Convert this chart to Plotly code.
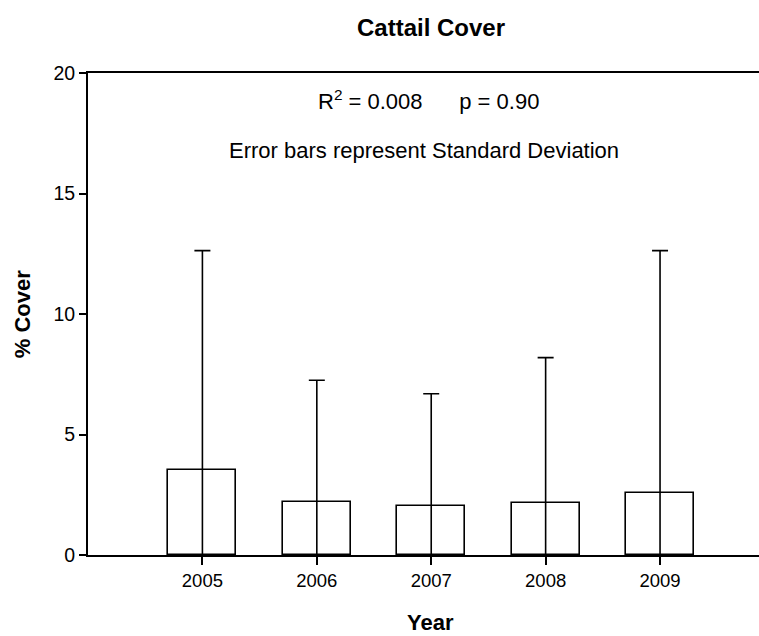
import plotly.graph_objects as go

# Cattail cover by survey year: mean % cover and standard deviation
years = [2005, 2006, 2007, 2008, 2009]
mean_cover = [3.53, 2.19, 2.03, 2.14, 2.56]
sd_cover = [9.10, 5.06, 4.66, 6.05, 10.07]
y_ticks = [0, 5, 10, 15, 20]

FONT = "Liberation Sans, Arial, sans-serif"

fig = go.Figure()
fig.add_trace(go.Bar(
    x=years,
    y=mean_cover,
    width=0.595,
    marker=dict(color="white", line=dict(color="black", width=1.6)),
    error_y=dict(
        type="data",
        symmetric=False,
        array=sd_cover,
        arrayminus=mean_cover,
        color="black",
        thickness=1.6,
        width=8,
    ),
    showlegend=False,
))

fig.update_layout(
    width=759,
    height=636,
    margin=dict(l=88, r=0, t=73, b=81),
    plot_bgcolor="white",
    paper_bgcolor="white",
    font=dict(family=FONT, color="black"),
    bargap=0,
    xaxis=dict(
        range=[2004, 2009.865],
        tickmode="array",
        tickvals=years,
        ticktext=[str(y) for y in years],
        showline=True,
        linecolor="black",
        linewidth=2,
        mirror=True,
        ticks="outside",
        ticklen=8,
        tickwidth=1.6,
        tickcolor="black",
        showgrid=False,
        zeroline=False,
        tickfont=dict(size=18.5, family=FONT),
    ),
    yaxis=dict(
        range=[0, 20],
        tickmode="array",
        tickvals=y_ticks,
        showline=True,
        linecolor="black",
        linewidth=2,
        ticks="outside",
        ticklen=7,
        tickwidth=1.6,
        tickcolor="black",
        showgrid=False,
        zeroline=False,
        tickfont=dict(size=19.5, family=FONT),
    ),
    annotations=[
        dict(text="<b>Cattail Cover</b>", xref="paper", yref="paper",
             x=0.511, y=1.095, xanchor="center", yanchor="middle",
             showarrow=False, font=dict(size=24, family=FONT)),
        dict(text="<b>Year</b>", xref="paper", yref="paper",
             x=0.51, y=-0.141, xanchor="center", yanchor="middle",
             showarrow=False, font=dict(size=22, family=FONT)),
        dict(text="<b>% Cover</b>", xref="paper", yref="paper",
             x=-0.098, y=0.5, xanchor="center", yanchor="middle",
             textangle=-90, showarrow=False, font=dict(size=22, family=FONT)),
        dict(text="R<sup>2</sup> = 0.008      p = 0.90", xref="paper", yref="paper",
             x=0.507, y=0.944, xanchor="center", yanchor="middle",
             showarrow=False, font=dict(size=22, family=FONT)),
        dict(text="Error bars represent Standard Deviation", xref="paper", yref="paper",
             x=0.50, y=0.840, xanchor="center", yanchor="middle",
             showarrow=False, font=dict(size=22, family=FONT)),
    ],
)

fig.write_html("out.html")
